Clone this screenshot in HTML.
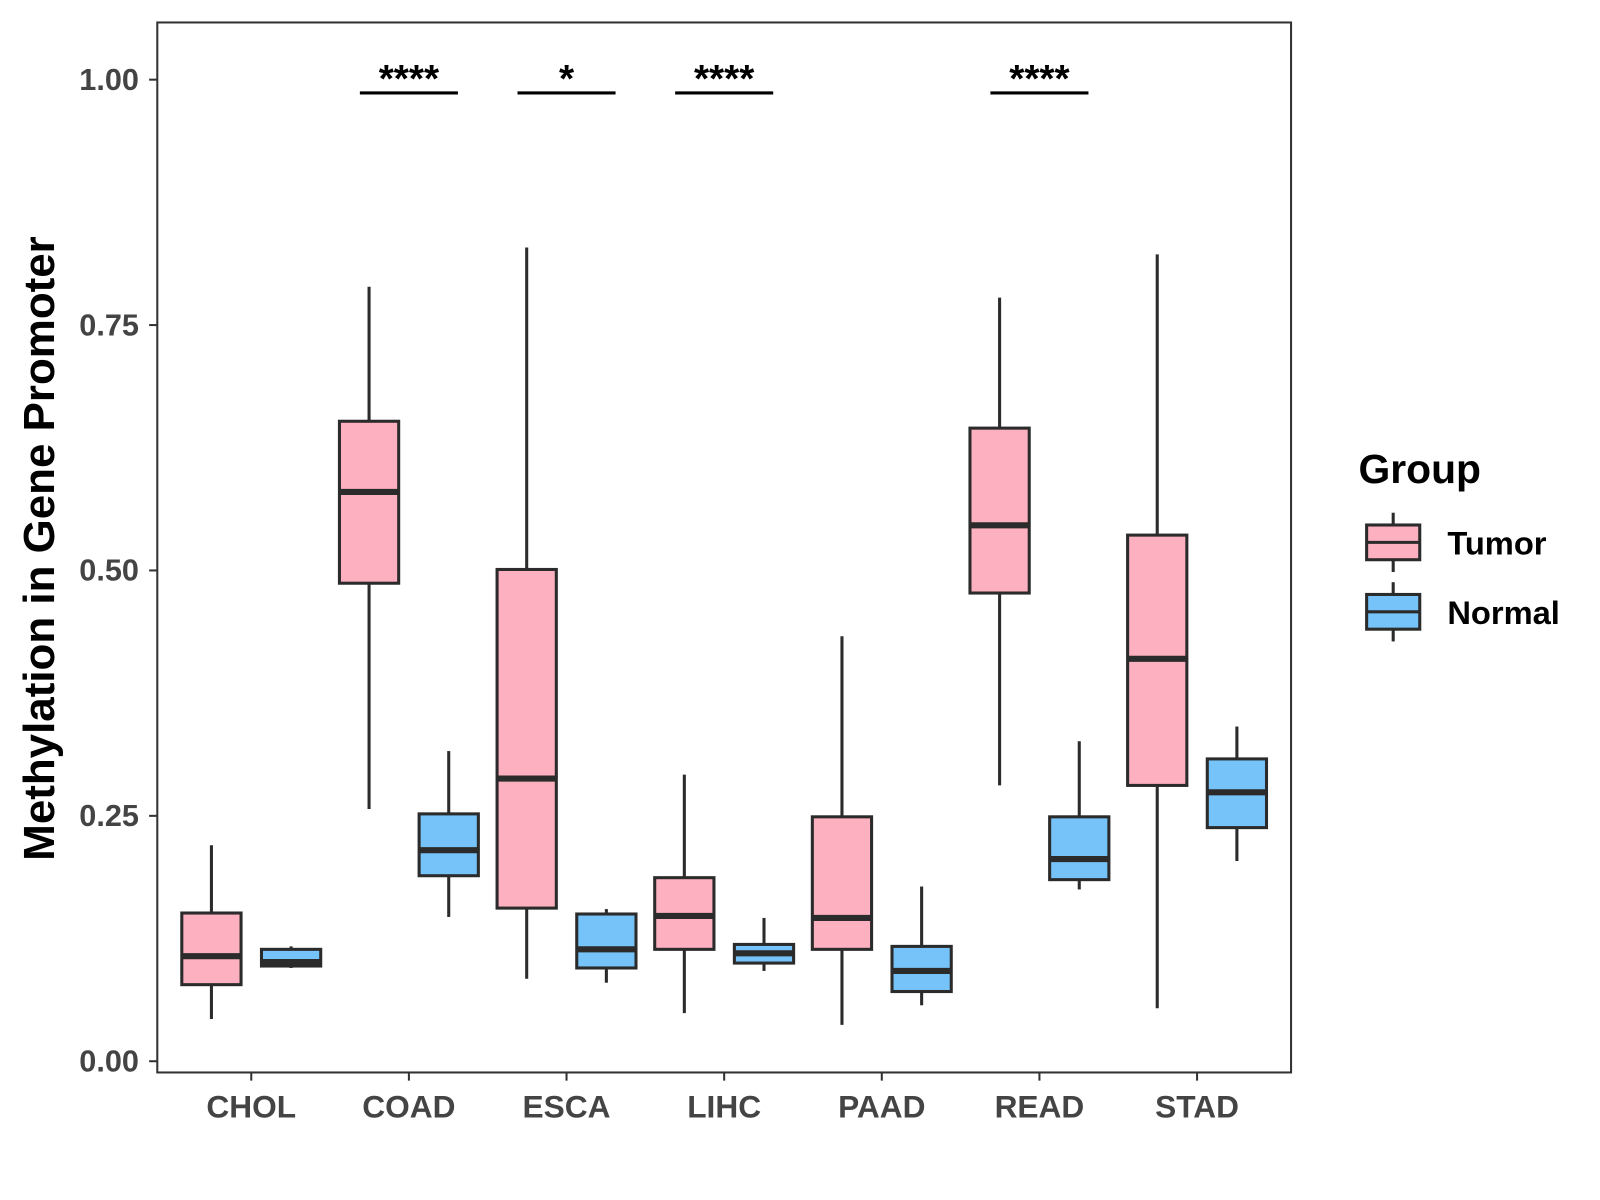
<!DOCTYPE html>
<html><head><meta charset="utf-8"><style>
html,body{margin:0;padding:0;background:#fff}
svg{display:block;font-family:"Liberation Sans",Arial,sans-serif}
</style></head><body>
<svg id="chart" width="1600" height="1200" viewBox="0 0 1600 1200">
<g transform="scale(1.0214)">
<rect x="154" y="22" width="1110" height="1028" fill="#fff" stroke="#333" stroke-width="2"/>
<g id="axes"></g>
<g id="marks"></g>
<text transform="translate(53,537) rotate(-90)" text-anchor="middle" font-size="43" font-weight="bold" fill="#000">Methylation in Gene Promoter</text>
<g>
<text x="1330" y="473" font-size="40" font-weight="bold">Group</text>
<g>
<line x1="1364" y1="502" x2="1364" y2="560" stroke="#2b2b2b" stroke-width="3"/>
<rect x="1338" y="514" width="52" height="34" fill="#FDB0C0" stroke="#2b2b2b" stroke-width="3"/>
<line x1="1338" y1="531" x2="1390" y2="531" stroke="#2b2b2b" stroke-width="3"/>
<text x="1417" y="543" font-size="32" font-weight="bold">Tumor</text>
</g>
<g>
<line x1="1364" y1="570" x2="1364" y2="628" stroke="#2b2b2b" stroke-width="3"/>
<rect x="1338" y="582" width="52" height="34" fill="#76C3FA" stroke="#2b2b2b" stroke-width="3"/>
<line x1="1338" y1="599" x2="1390" y2="599" stroke="#2b2b2b" stroke-width="3"/>
<text x="1417" y="611" font-size="32" font-weight="bold">Normal</text>
</g>
</g>
</g>
</svg>
<script>
const categories = ["CHOL","COAD","ESCA","LIHC","PAAD","READ","STAD"];
const tumorMin = [0.043,0.257,0.084,0.049,0.037,0.281,0.054];
const tumorQ1 = [0.078,0.487,0.156,0.114,0.114,0.477,0.281];
const tumorMed = [0.107,0.580,0.288,0.148,0.146,0.546,0.410];
const tumorQ3 = [0.151,0.652,0.501,0.187,0.249,0.645,0.536];
const tumorMax = [0.220,0.789,0.829,0.292,0.433,0.778,0.822];
const normalMin = [0.095,0.147,0.080,0.092,0.057,0.175,0.204];
const normalQ1 = [0.097,0.189,0.095,0.100,0.071,0.185,0.238];
const normalMed = [0.101,0.215,0.114,0.110,0.092,0.206,0.274];
const normalQ3 = [0.114,0.252,0.150,0.119,0.117,0.249,0.308];
const normalMax = [0.117,0.316,0.155,0.146,0.178,0.326,0.341];
const yTicks = [0,0.25,0.5,0.75,1];
const yTickLabels = ["0.00","0.25","0.50","0.75","1.00"];
const sigLabels = ["","****","*","****","","****",""];

const NS="http://www.w3.org/2000/svg";
function y(v){return 1039-v*961;}
function x(i){return 246+i*154.33;}
function mk(tag,attrs,parent,txt){const e=document.createElementNS(NS,tag);for(const k in attrs)e.setAttribute(k,attrs[k]);if(txt!==undefined)e.textContent=txt;parent.appendChild(e);return e;}
const axes=document.getElementById('axes'), marks=document.getElementById('marks');
yTicks.forEach((t,i)=>{
  const l=mk('line',{x1:146,x2:154,y1:y(t),y2:y(t),stroke:'#333','stroke-width':2},axes);
  
  
  const tx=mk('text',{x:136,y:y(t)+10,'text-anchor':'end','font-size':30,'font-weight':'bold',fill:'#444'},axes,yTickLabels[i]);
  
  
});
categories.forEach((c,i)=>{
  const l=mk('line',{x1:x(i),x2:x(i),y1:1050,y2:1058,stroke:'#333','stroke-width':2},axes);
  
  
  const tx=mk('text',{x:x(i),y:1094,'text-anchor':'middle','font-size':31,'font-weight':'bold',fill:'#444'},axes,c);
  
  
});
function box(cx,mn,q1,md,q3,mx,fill,name){
  const g=mk('g',{},marks);
  
  
  const s='#2b2b2b';
  mk('line',{x1:cx,x2:cx,y1:y(mx),y2:y(q3),stroke:s,'stroke-width':3},g);
  mk('line',{x1:cx,x2:cx,y1:y(q1),y2:y(mn),stroke:s,'stroke-width':3},g);
  mk('rect',{x:cx-29,y:y(q3),width:58,height:y(q1)-y(q3),fill:fill,stroke:s,'stroke-width':3},g);
  mk('line',{x1:cx-29,x2:cx+29,y1:y(md),y2:y(md),stroke:s,'stroke-width':6},g);
}
categories.forEach((c,i)=>{
  box(x(i)-39,tumorMin[i],tumorQ1[i],tumorMed[i],tumorQ3[i],tumorMax[i],'#FDB0C0','box-tumor-'+c.toLowerCase());
  box(x(i)+39,normalMin[i],normalQ1[i],normalMed[i],normalQ3[i],normalMax[i],'#76C3FA','box-normal-'+c.toLowerCase());
  if(sigLabels[i]){
    const g=mk('g',{},marks);
    
    
    mk('line',{x1:x(i)-48,x2:x(i)+48,y1:91,y2:91,stroke:'#000','stroke-width':3},g);
    mk('text',{x:x(i),y:90,'text-anchor':'middle','font-size':38,'font-weight':'bold'},g,sigLabels[i]);
  }
});
</script>
</body></html>
